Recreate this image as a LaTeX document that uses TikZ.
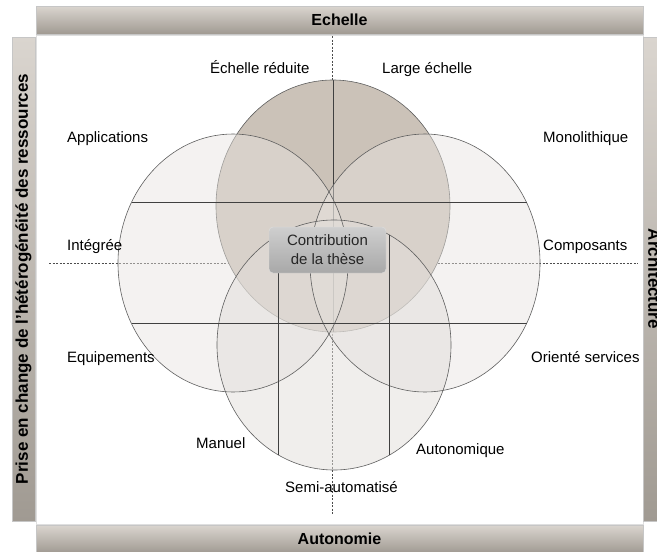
\documentclass[tikz,border=0pt]{standalone}
\usepackage{fontspec}
\setmainfont{Liberation Sans}
\usetikzlibrary{positioning}
\definecolor{barlight}{RGB}{218,213,207}
\definecolor{bardark}{RGB}{160,154,146}
\definecolor{ringtop}{RGB}{203,194,184}
\definecolor{ringside}{RGB}{232,228,224}
\definecolor{ringbot}{RGB}{226,222,218}
\definecolor{ringline}{RGB}{95,95,95}

\begin{document}
\begin{tikzpicture}[x=1pt, y=-1pt,
  hbar/.style={draw=gray!45, top color=barlight, bottom color=bardark, inner sep=0pt},
  head/.style={font=\fontsize{16}{19}\selectfont\bfseries},
  side/.style={font=\fontsize{17}{20}\selectfont\bfseries},
  lbl/.style={font=\fontsize{15}{18}\selectfont, anchor=base west, inner sep=0pt},
  axis/.style={draw=black!70, dash pattern=on 2pt off 1.5pt, line width=0.5pt},
  ring/.style={draw=ringline, line width=0.6pt},
  chord/.style={draw=black!75, line width=0.7pt}]

  \useasboundingbox (0,0) rectangle (657,552);
  \clip (0,0) rectangle (657,552);

  % Panel and bars
  \draw[fill=white, draw=gray!25] (36,35) rectangle (643,524);
  \node[hbar, head, minimum width=607pt, minimum height=28pt] (echelle) at (339.5,20) {Echelle};
  \node[hbar, head, minimum width=607pt, minimum height=28pt] (autonomie) at (339.5,539) {Autonomie};
  \node[hbar, side, rotate=90, minimum width=484pt, minimum height=23pt] (ressources) at (23.5,279)
    {Prise en change de l'hétérogénéité des ressources};
  \node[hbar, side, rotate=-90, minimum width=484pt, minimum height=23pt] (architecture) at (654.5,279)
    {Architecture};

  % Axes
  \draw[axis] (332,36) -- (332,515);
  \draw[axis] (49,263) -- (638,263);

  % Echelle circle
  \fill[ringtop] (333,206) ellipse [x radius=117pt, y radius=126pt];
  \draw[chord] (333,80) -- (333,332);
  \draw[ring] (333,206) ellipse [x radius=117pt, y radius=126pt];

  % Translucent circles
  \fill[ringside, fill opacity=0.45] (233,263) ellipse [x radius=115pt, y radius=129pt];
  \fill[ringside, fill opacity=0.45] (425,263) ellipse [x radius=115pt, y radius=129pt];
  \fill[ringbot, fill opacity=0.5]   (334,345) ellipse [x radius=117pt, y radius=125pt];
  \draw[ring] (233,263) ellipse [x radius=115pt, y radius=129pt];
  \draw[ring] (425,263) ellipse [x radius=115pt, y radius=129pt];
  \draw[ring] (334,345) ellipse [x radius=117pt, y radius=125pt];

  % Chords
  \draw[chord] (131.5,202) -- (526.5,202);
  \draw[chord] (131.5,323) -- (526.5,323);
  \draw[chord] (278,235) -- (278,455);
  \draw[chord] (389,235) -- (389,455);

  % Centre
  \node[draw=white!75!gray, rounded corners=4pt, top color=gray!38, bottom color=gray!68,
        minimum width=117pt, minimum height=46pt, align=center, text=black!85,
        font=\fontsize{15}{19}\selectfont] (these) at (327.5,250) {Contribution\\de la thèse};

  % Labels
  \node[lbl] (reduite)   at (210,73)  {Échelle réduite};
  \node[lbl] (large)     at (382,73)  {Large échelle};
  \node[lbl] (appli)     at (67,142)  {Applications};
  \node[lbl] (integree)  at (67,250)  {Intégrée};
  \node[lbl] (equip)     at (67,362)  {Equipements};
  \node[lbl] (mono)      at (543,142) {Monolithique};
  \node[lbl] (compo)     at (543,250) {Composants};
  \node[lbl] (services)  at (531,362) {Orienté services};
  \node[lbl] (manuel)    at (196,448) {Manuel};
  \node[lbl] (autonom)   at (416,454) {Autonomique};
  \node[lbl] (semi)      at (285,492) {Semi-automatisé};
\end{tikzpicture}
\end{document}
